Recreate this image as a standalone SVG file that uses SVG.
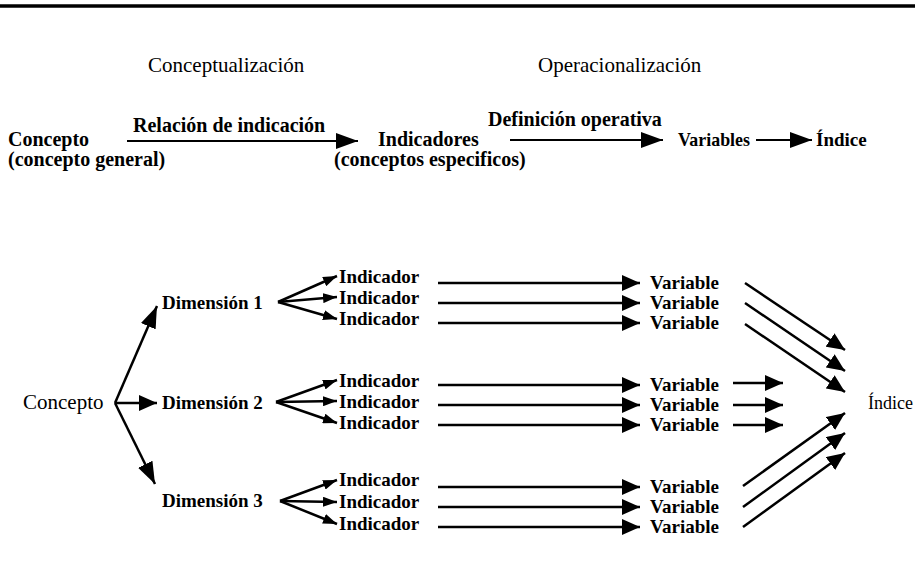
<svg xmlns="http://www.w3.org/2000/svg" width="915" height="579" viewBox="0 0 915 579">
<style>
text{font-family:"Liberation Serif","Times New Roman",serif;fill:#000}
.ti{font-size:21px}
.lb{font-size:20px;font-weight:bold}
.lm{font-size:19px;font-weight:bold}
.lo{font-size:19px;font-weight:bold}
.rg{font-size:21px}
.ix{font-size:18px}
.c line{stroke:#000;stroke-width:2.5;fill:none}
.c line.t{stroke-width:2.2}
</style>
<defs>
<marker id="aBig" markerUnits="userSpaceOnUse" markerWidth="22" markerHeight="16" refX="22" refY="8" orient="auto"><path d="M0,0 L22,8 L0,16 z" fill="#000"/></marker>
<marker id="aMid" markerUnits="userSpaceOnUse" markerWidth="18" markerHeight="16" refX="18" refY="8" orient="auto"><path d="M0,0 L18,8 L0,16 z" fill="#000"/></marker>
<marker id="aSm" markerUnits="userSpaceOnUse" markerWidth="14" markerHeight="10" refX="14" refY="5" orient="auto"><path d="M0,0 L14,5 L0,10 z" fill="#000"/></marker>
</defs>
<rect width="915" height="579" fill="#fff"/>
<line x1="0" y1="6" x2="915" y2="6" stroke="#000" stroke-width="3.5"/>

<g id="titles">
<text class="ti" x="148" y="72">Conceptualización</text>
<text class="ti" x="538" y="72">Operacionalización</text>
</g>

<g id="top-concepto"><text class="lb" x="8" y="146">Concepto</text><text class="lb" x="8" y="166">(concepto general)</text></g>
<g id="top-indicadores"><text class="lb" x="378" y="146">Indicadores</text><text class="lb" x="334" y="166">(conceptos especificos)</text></g>
<g id="top-variables"><text class="lm" x="678" y="146" textLength="72" lengthAdjust="spacingAndGlyphs">Variables</text></g>
<g id="top-indice"><text class="lm" x="816" y="146">Índice</text></g>

<g id="lo-concepto"><text class="rg" x="23" y="409">Concepto</text></g>
<g id="dim1"><text class="lo" x="162" y="309">Dimensión 1</text></g>
<g id="dim2"><text class="lo" x="162" y="409">Dimensión 2</text></g>
<g id="dim3"><text class="lo" x="162" y="507">Dimensión 3</text></g>

<g id="ind1"><text class="lo" x="339" y="283">Indicador</text><text class="lo" x="339" y="304">Indicador</text><text class="lo" x="339" y="325">Indicador</text></g>
<g id="ind2"><text class="lo" x="339" y="387">Indicador</text><text class="lo" x="339" y="408">Indicador</text><text class="lo" x="339" y="429">Indicador</text></g>
<g id="ind3"><text class="lo" x="339" y="486">Indicador</text><text class="lo" x="339" y="508">Indicador</text><text class="lo" x="339" y="530">Indicador</text></g>

<g id="var1"><text class="lo" x="650" y="289">Variable</text><text class="lo" x="650" y="309">Variable</text><text class="lo" x="650" y="329">Variable</text></g>
<g id="var2"><text class="lo" x="650" y="391">Variable</text><text class="lo" x="650" y="411">Variable</text><text class="lo" x="650" y="431">Variable</text></g>
<g id="var3"><text class="lo" x="650" y="493">Variable</text><text class="lo" x="650" y="513">Variable</text><text class="lo" x="650" y="533">Variable</text></g>

<g id="lo-indice"><text class="ix" x="868" y="409">Índice</text></g>

<g id="connectors" class="c">
<text class="lb" x="133" y="132">Relación de indicación</text>
<text class="lb" x="488" y="126">Definición operativa</text>
<line class="t" x1="127" y1="141" x2="358" y2="141" marker-end="url(#aBig)"/>
<line class="t" x1="510" y1="140" x2="663" y2="140" marker-end="url(#aBig)"/>
<line class="t" x1="756" y1="140" x2="812" y2="140" marker-end="url(#aBig)"/>

<line x1="115" y1="403" x2="157" y2="306" marker-end="url(#aBig)"/>
<line x1="115" y1="403" x2="157" y2="403" marker-end="url(#aMid)"/>
<line x1="115" y1="403" x2="155" y2="484" marker-end="url(#aBig)"/>

<line x1="278" y1="302" x2="337" y2="276" marker-end="url(#aSm)"/>
<line x1="278" y1="302" x2="337" y2="297" marker-end="url(#aSm)"/>
<line x1="278" y1="302" x2="337" y2="319" marker-end="url(#aSm)"/>
<line x1="276" y1="402" x2="337" y2="380" marker-end="url(#aSm)"/>
<line x1="276" y1="402" x2="337" y2="401" marker-end="url(#aSm)"/>
<line x1="276" y1="402" x2="337" y2="423" marker-end="url(#aSm)"/>
<line x1="280" y1="501" x2="337" y2="480" marker-end="url(#aSm)"/>
<line x1="280" y1="501" x2="337" y2="502" marker-end="url(#aSm)"/>
<line x1="280" y1="501" x2="337" y2="524" marker-end="url(#aSm)"/>

<line x1="438" y1="283" x2="640" y2="283" marker-end="url(#aMid)"/>
<line x1="438" y1="303" x2="640" y2="303" marker-end="url(#aMid)"/>
<line x1="438" y1="323" x2="640" y2="323" marker-end="url(#aMid)"/>
<line x1="438" y1="385" x2="640" y2="385" marker-end="url(#aMid)"/>
<line x1="438" y1="405" x2="640" y2="405" marker-end="url(#aMid)"/>
<line x1="438" y1="425" x2="640" y2="425" marker-end="url(#aMid)"/>
<line x1="438" y1="487" x2="640" y2="487" marker-end="url(#aMid)"/>
<line x1="438" y1="507" x2="640" y2="507" marker-end="url(#aMid)"/>
<line x1="438" y1="527" x2="640" y2="527" marker-end="url(#aMid)"/>

<line x1="745" y1="283" x2="845" y2="350" marker-end="url(#aMid)"/>
<line x1="745" y1="303" x2="845" y2="371" marker-end="url(#aMid)"/>
<line x1="745" y1="324" x2="845" y2="392" marker-end="url(#aMid)"/>
<line x1="733" y1="383" x2="783" y2="383" marker-end="url(#aMid)"/>
<line x1="733" y1="405" x2="783" y2="405" marker-end="url(#aMid)"/>
<line x1="733" y1="425" x2="783" y2="425" marker-end="url(#aMid)"/>
<line x1="743" y1="486" x2="845" y2="413" marker-end="url(#aMid)"/>
<line x1="743" y1="507" x2="845" y2="433" marker-end="url(#aMid)"/>
<line x1="743" y1="527" x2="845" y2="453" marker-end="url(#aMid)"/>
</g>
</svg>
